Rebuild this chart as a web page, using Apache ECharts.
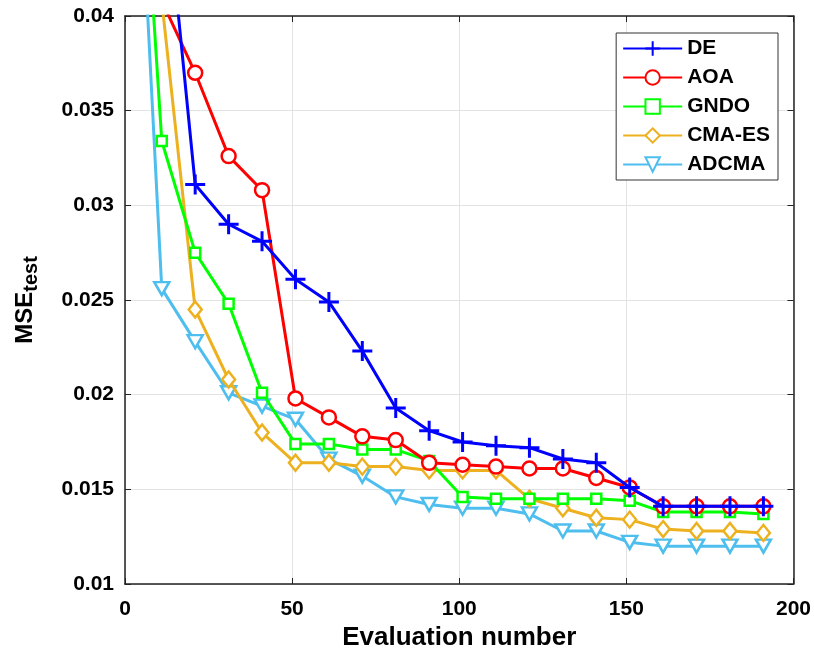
<!DOCTYPE html>
<html><head><meta charset="utf-8">
<script src="https://cdn.jsdelivr.net/npm/echarts@6/dist/echarts.min.js"></script>
<style>html,body{margin:0;padding:0;background:#fff}#c{width:814px;height:656px}</style>
</head><body><div id="c"></div>
<script>
const evals = [1, 11, 21, 31, 41, 51, 61, 71, 81, 91, 101, 111, 121, 131, 141, 151, 161, 171, 181, 191];
const seriesNames = ['DE', 'AOA', 'GNDO', 'CMA-ES', 'ADCMA'];
const DE    = [0.075, 0.0489, 0.0311, 0.0290, 0.0281, 0.0261, 0.0249, 0.0223, 0.0193, 0.0181, 0.0175, 0.0173, 0.0172, 0.0166, 0.0164, 0.0151, 0.0141, 0.0141, 0.0141, 0.0141];
const AOA   = [0.060, 0.0408, 0.0370, 0.0326, 0.0308, 0.0198, 0.0188, 0.0178, 0.0176, 0.0164, 0.0163, 0.0162, 0.0161, 0.0161, 0.0156, 0.0151, 0.0141, 0.0141, 0.0141, 0.0141];
const GNDO  = [0.0606, 0.0334, 0.0275, 0.0248, 0.0201, 0.0174, 0.0174, 0.0171, 0.0171, 0.0165, 0.0146, 0.0145, 0.0145, 0.0145, 0.0145, 0.0144, 0.0138, 0.0138, 0.0138, 0.0137];
const CMAES = [0.060, 0.0408, 0.0245, 0.0208, 0.0180, 0.0164, 0.0164, 0.0162, 0.0162, 0.0160, 0.0160, 0.0160, 0.0145, 0.0140, 0.0135, 0.0134, 0.0129, 0.0128, 0.0128, 0.0127];
const ADCMA = [0.0599, 0.0256, 0.0228, 0.0201, 0.0194, 0.0187, 0.0166, 0.0157, 0.0146, 0.0142, 0.0140, 0.0140, 0.0137, 0.0128, 0.0128, 0.0122, 0.0120, 0.0120, 0.0120, 0.0120];
const yTicks = ['0.01', '0.015', '0.02', '0.025', '0.03', '0.035', '0.04'];
const xTicks = ['0', '50', '100', '150', '200'];

const colors = ['#0000FF', '#FF0000', '#00FF00', '#EDB120', '#4DBEEE'];
const symbols = ['path://M5,0L5,10M0,5L10,5', 'circle', 'rect', 'diamond', 'path://M0,0L10,0L5,9Z'];
const sizes = [[20, 20], 14, 10, [13, 16], [15, 13]];
const data = [DE, AOA, GNDO, CMAES, ADCMA];
const font = 'Liberation Sans, Arial, Helvetica, sans-serif';

const chart = echarts.init(document.getElementById('c'), null, {renderer: 'canvas'});
const series = seriesNames.map((n, i) => ({
  name: n, type: 'line',
  data: evals.map((x, j) => [x, data[i][j]]),
  symbol: symbols[i], symbolSize: sizes[i], showAllSymbol: true,
  color: colors[i],
  lineStyle: {color: colors[i], width: 3},
  itemStyle: {color: i === 0 ? colors[i] : '#fff', borderColor: colors[i], borderWidth: i === 0 ? 3 : 2.5},
  clip: true, animation: false, z: 10 - i
}));

chart.setOption({
  animation: false,
  backgroundColor: '#fff',
  grid: {left: 125, right: 19, top: 16, bottom: 72},
  legend: {
    show: true, orient: 'vertical', right: 36, top: 33,
    data: seriesNames,
    backgroundColor: '#fff', borderColor: '#333', borderWidth: 1,
    padding: [5, 8, 5, 6], itemGap: 8, itemWidth: 59, itemHeight: 18,
    textStyle: {fontFamily: font, fontWeight: 'bold', fontSize: 21, lineHeight: 21, color: '#000'}
  },
  xAxis: [{
    type: 'value', min: 0, max: 200, interval: 50,
    name: 'Evaluation number', nameLocation: 'middle', nameGap: 35,
    nameTextStyle: {fontFamily: font, fontWeight: 'bold', fontSize: 26, color: '#000'},
    axisLine: {show: true, onZero: false, lineStyle: {color: '#222', width: 1.5}},
    axisTick: {show: true, inside: true, length: 6, lineStyle: {color: '#222'}},
    axisLabel: {fontFamily: font, fontWeight: 'bold', fontSize: 21, color: '#000', margin: 15,
      formatter: v => xTicks[Math.round(v / 50)]},
    splitLine: {show: true, lineStyle: {color: '#e3e3e3', width: 1}}
  }, {
    type: 'value', min: 0, max: 200, interval: 50, position: 'top',
    axisLine: {show: true, onZero: false, lineStyle: {color: '#222', width: 1.5}},
    axisTick: {show: true, inside: true, length: 6, lineStyle: {color: '#222'}},
    axisLabel: {show: false}, splitLine: {show: false}
  }],
  yAxis: [{
    type: 'value', min: 0.01, max: 0.04, interval: 0.005,
    name: '{a|MSE}{b|test}', nameLocation: 'middle', nameGap: 84, nameRotate: 90,
    nameTextStyle: {rich: {
      a: {fontFamily: font, fontWeight: 'bold', fontSize: 24, color: '#000'},
      b: {fontFamily: font, fontWeight: 'bold', fontSize: 20, color: '#000', padding: [12, 0, 0, 0]}
    }},
    axisLine: {show: true, onZero: false, lineStyle: {color: '#222', width: 1.5}},
    axisTick: {show: true, inside: true, length: 6, lineStyle: {color: '#222'}},
    axisLabel: {fontFamily: font, fontWeight: 'bold', fontSize: 21, color: '#000', margin: 11,
      formatter: v => yTicks[Math.round((v - 0.01) / 0.005)]},
    splitLine: {show: true, lineStyle: {color: '#e3e3e3', width: 1}}
  }, {
    type: 'value', min: 0.01, max: 0.04, interval: 0.005, position: 'right',
    axisLine: {show: true, onZero: false, lineStyle: {color: '#222', width: 1.5}},
    axisTick: {show: true, inside: true, length: 6, lineStyle: {color: '#222'}},
    axisLabel: {show: false}, splitLine: {show: false}
  }],
  series: series
});
</script></body></html>
